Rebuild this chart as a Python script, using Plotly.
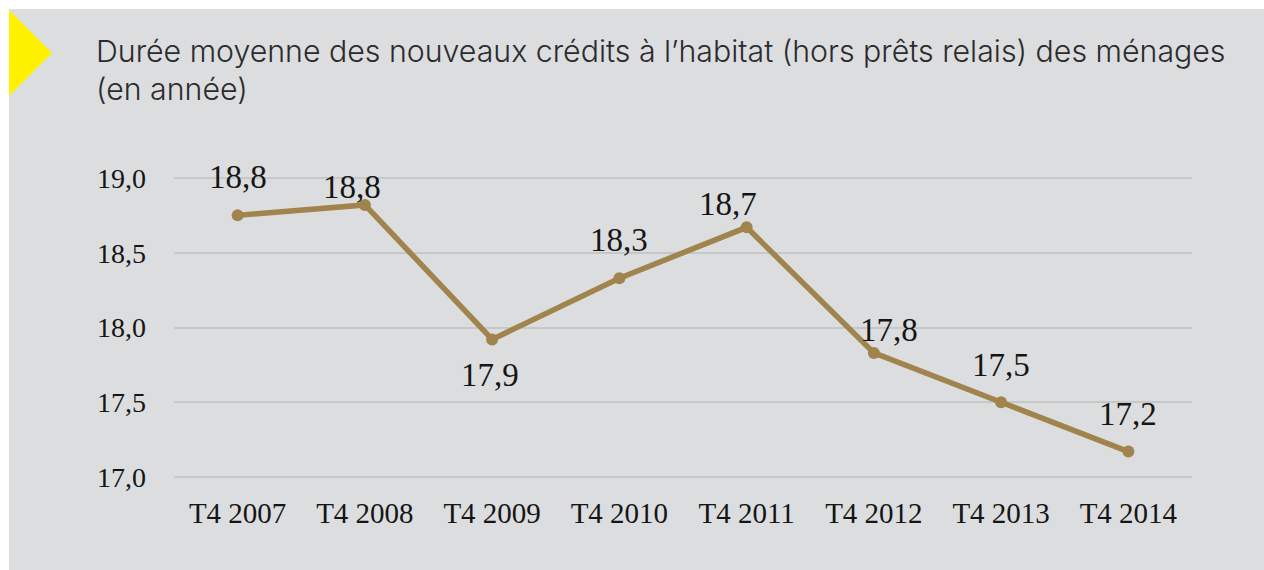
import plotly.graph_objects as go

W, H = 1264, 570
L, R, T, B = 174, 1192, 175, 480

title_lines = ["Durée moyenne des nouveaux crédits à l’habitat (hors prêts relais) des ménages", "(en année)"]
categories = ["T4 2007", "T4 2008", "T4 2009", "T4 2010", "T4 2011", "T4 2012", "T4 2013", "T4 2014"]
values = [18.75, 18.82, 17.92, 18.33, 18.67, 17.83, 17.5, 17.17]
value_labels = ["18,8", "18,8", "17,9", "18,3", "18,7", "17,8", "17,5", "17,2"]
label_dx = [0, -13, -2, 0, -19, 15, 0, 0]
label_dy = [38, 18, -36, 38, 23, 23, 37, 38]
y_ticks = [17, 17.5, 18, 18.5, 19]
y_tick_labels = ["17,0", "17,5", "18,0", "18,5", "19,0"]

def px(x):
    return (x - L) / (R - L)

def py(y):
    return (B - y) / (B - T)

fig = go.Figure(go.Scatter(
    x=categories, y=values, mode="lines+markers",
    line=dict(color="#A0834D", width=5.5),
    marker=dict(color="#A0834D", size=12),
    cliponaxis=False, hoverinfo="skip",
))

shapes = [
    dict(type="rect", xref="paper", yref="paper", layer="below",
         x0=px(9), x1=px(W), y0=py(H), y1=py(9),
         fillcolor="#DCDDDF", line_width=0),
    dict(type="path", xref="paper", yref="paper", layer="below",
         path=f"M {px(9)} {py(10)} L {px(52)} {py(53)} L {px(9)} {py(96)} Z",
         fillcolor="#FFF200", line_width=0),
]

annotations = []
for i, line in enumerate(title_lines):
    annotations.append(dict(
        xref="paper", yref="paper", x=px(94), y=py(51 + 38 * i),
        xanchor="left", yanchor="middle", showarrow=False, text=line,
        font=dict(family="Inter", size=30.3, color="#2B2B2D", weight=300),
    ))
for c, v, t, dx, dy in zip(categories, values, value_labels, label_dx, label_dy):
    annotations.append(dict(
        x=c, y=v, xref="x", yref="y", text=t, showarrow=False,
        xanchor="center", yanchor="middle", xshift=dx, yshift=dy,
        font=dict(family="Liberation Serif", size=33, color="#151515"),
    ))

fig.update_layout(
    width=W, height=H, autosize=False,
    margin=dict(l=L, r=W - R, t=T, b=H - B, pad=0),
    paper_bgcolor="white", plot_bgcolor="rgba(0,0,0,0)",
    showlegend=False, shapes=shapes, annotations=annotations,
    font=dict(family="Liberation Serif", color="#151515"),
)
fig.update_xaxes(type="category", range=[-0.5, 7.5], showgrid=False, showline=False, zeroline=False,
                 ticks="", tickfont=dict(size=29), ticklabelstandoff=13)
fig.update_yaxes(range=[16.98, 19.02], tickmode="array", tickvals=y_ticks, ticktext=y_tick_labels,
                 showgrid=True, gridcolor="#C6C7C9", gridwidth=1.5, showline=False,
                 zeroline=False, ticks="", tickfont=dict(size=28), ticklabelstandoff=27)

fig.write_html("out.html", config=dict(displayModeBar=False),
               post_script="document.body.style.margin='0';document.documentElement.style.overflow='hidden';")
